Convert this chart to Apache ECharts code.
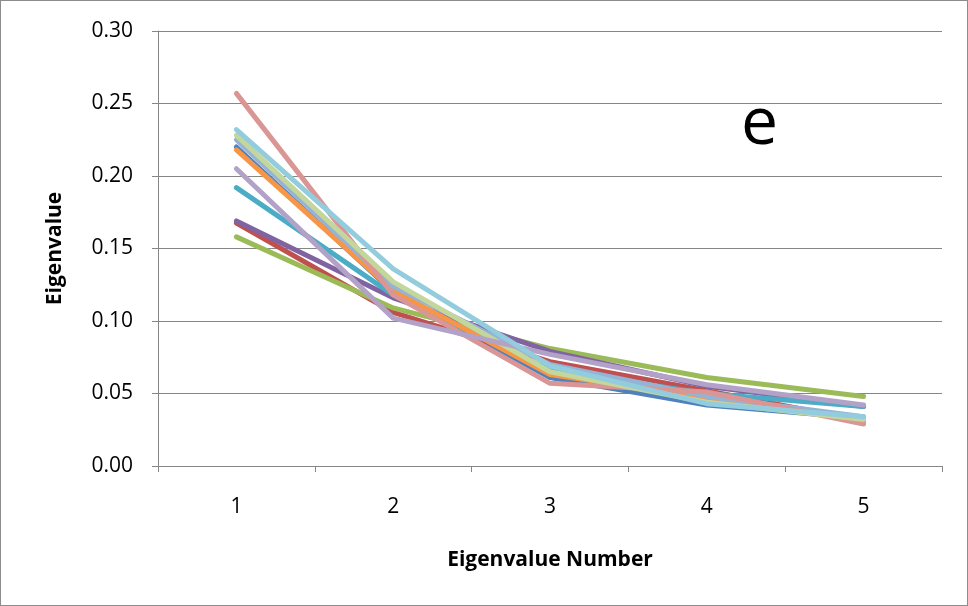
<!DOCTYPE html>
<html><head><meta charset="utf-8">
<script src="https://cdn.jsdelivr.net/npm/echarts@6/dist/echarts.min.js"></script>
<style>html,body{margin:0;padding:0;background:#fff}#c{width:968px;height:606px;box-sizing:border-box;border:1px solid #8c8c8c}</style>
</head><body><div id="c"></div>
<script>
const categories = ['1','2','3','4','5'];
const yTicks = [0, 0.05, 0.10, 0.15, 0.20, 0.25, 0.30];
const sBlue      = [0.220, 0.120, 0.061, 0.042, 0.033];
const sRed       = [0.1676, 0.106, 0.072, 0.052, 0.031];
const sGreen     = [0.158, 0.109, 0.081, 0.061, 0.048];
const sPurple    = [0.169, 0.116, 0.079, 0.055, 0.041];
const sTeal      = [0.192, 0.118, 0.066, 0.050, 0.041];
const sOrange    = [0.218, 0.121, 0.063, 0.047, 0.032];
const sSkyBlue   = [0.225, 0.124, 0.070, 0.048, 0.034];
const sPink      = [0.257, 0.118, 0.057, 0.051, 0.029];
const sLightGreen= [0.228, 0.127, 0.065, 0.044, 0.032];
const sLavender  = [0.205, 0.102, 0.077, 0.056, 0.042];
const sLightTeal = [0.232, 0.136, 0.069, 0.043, 0.034];

const seriesList = [
  [sBlue,'#4F81BD'],[sRed,'#C0504D'],[sGreen,'#9BBB59'],[sPurple,'#8064A2'],
  [sTeal,'#4BACC6'],[sOrange,'#F79646'],[sSkyBlue,'#95B3D7'],[sPink,'#D99694'],
  [sLightGreen,'#C3D69B'],[sLavender,'#B3A2C7'],[sLightTeal,'#93CDDD']
];
const font = '"Open Sans", "Liberation Sans", sans-serif';
const chart = echarts.init(document.getElementById('c'));
chart.setOption({
  animation:false,
  grid:{left:157,right:25,top:30,bottom:139,containLabel:false},
  graphic:[{type:'text',left:740,top:91,style:{text:'e',font:'66px '+font,fill:'#000'}}],
  xAxis:{type:'category',data:categories,boundaryGap:true,
    name:'Eigenvalue Number',nameLocation:'middle',nameGap:84,
    nameTextStyle:{fontFamily:font,fontWeight:'bold',fontSize:21,color:'#000'},
    axisLine:{lineStyle:{color:'#868686',width:1}},
    axisTick:{show:true,alignWithLabel:false,length:6,lineStyle:{color:'#868686'}},
    axisLabel:{fontFamily:font,fontSize:21,color:'#000',margin:31}},
  yAxis:{type:'value',min:0,max:0.30,interval:0.05,
    name:'Eigenvalue',nameLocation:'middle',nameGap:92,nameRotate:90,
    nameTextStyle:{fontFamily:font,fontWeight:'bold',fontSize:21,color:'#000'},
    axisLine:{show:true,lineStyle:{color:'#868686',width:1}},
    axisTick:{show:true,length:6,lineStyle:{color:'#868686'}},
    splitLine:{lineStyle:{color:'#868686',width:1}},
    axisLabel:{fontFamily:font,fontSize:21,color:'#000',margin:25,formatter:v=>v.toFixed(2)}},
  series: seriesList.map(([d,c])=>({type:'line',data:d,symbol:'none',
    lineStyle:{color:c,width:5,cap:'round',join:'round'},itemStyle:{color:c}}))
});
</script></body></html>
